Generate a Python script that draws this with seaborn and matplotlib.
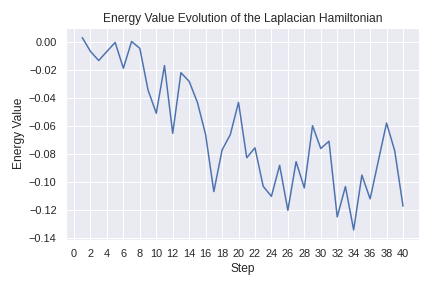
import numpy as np
import pandas as pd
import matplotlib
matplotlib.use("Agg")
import matplotlib.pyplot as plt
import seaborn as sns

# Energy values per step
steps = list(range(1, 41))
energy = [0.0035, -0.0064, -0.0129, -0.0064, 0.0000, -0.0184, 0.0007, -0.0042,
          -0.0340, -0.0506, -0.0165, -0.0650, -0.0216, -0.0278, -0.0428, -0.0659,
          -0.1066, -0.0769, -0.0659, -0.0428, -0.0824, -0.0753, -0.1028, -0.1100,
          -0.0878, -0.1200, -0.0852, -0.1040, -0.0595, -0.0758, -0.0706, -0.1247,
          -0.1030, -0.1340, -0.0948, -0.1118, -0.0847, -0.0576, -0.0776, -0.1170]

df = pd.DataFrame({"Step": steps, "Energy Value": energy})

sns.set_theme(style="darkgrid")
plt.rcParams["font.family"] = ["Liberation Sans", "DejaVu Sans"]

plt.figure(figsize=(6, 4), dpi=72)
sns.lineplot(x="Step", y="Energy Value", data=df)
plt.xticks(np.arange(0, 41, 2))
plt.title("Energy Value Evolution of the Laplacian Hamiltonian")
plt.tight_layout()
plt.savefig("out.png")
